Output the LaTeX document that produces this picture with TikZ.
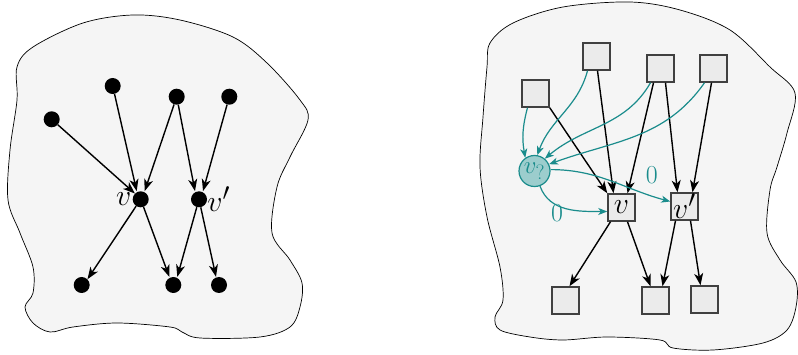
\documentclass[tikz,border=0pt]{standalone}
\usetikzlibrary{arrows.meta}
\definecolor{blobfill}{HTML}{F5F5F5}
\definecolor{boxfill}{HTML}{EBEBEB}
\definecolor{boxdraw}{HTML}{404040}
\definecolor{tealc}{HTML}{1A8C8C}
\definecolor{tealfill}{HTML}{9CCDCD}
\newcommand{\bigv}[1]{\scalebox{1.2}{\Huge $#1$}}
\begin{document}
\begin{tikzpicture}[x=1pt,y=-1pt,
  blob/.style={fill=blobfill, draw=black, line width=0.7pt},
  dot/.style={circle, fill=black, inner sep=0pt, minimum size=16pt},
  sq/.style={draw=boxdraw, fill=boxfill, line width=1.5pt, minimum size=27pt, inner sep=0pt},
  arr/.style={-{Stealth[length=12pt,width=9pt,inset=3.5pt]}, line width=1.4pt},
  tarr/.style={draw=tealc, line width=1.2pt, -{Stealth[length=9pt,width=7pt,inset=2.5pt]}},
  vlab/.style={inner sep=1pt},
  zlab/.style={text=tealc, inner sep=0pt}]
\useasboundingbox (0,0) rectangle (798,355);

% blobs
\filldraw[blob] plot[smooth cycle, tension=0.55] coordinates {(17,67) (33,47) (83,23) (133,15) (180,20) (233,37) (267,63) (300,100) (308,120) (290,157) (277,187) (272,233) (290,260) (302,283) (300,307) (290,327) (260,337) (200,338) (182,332) (170,327) (117,323) (73,327) (50,332) (33,323) (25,307) (33,293) (33,267) (20,233) (8,200) (10,150) (17,100)};
\filldraw[blob] plot[smooth cycle, tension=0.55] coordinates {(490,43) (513,23) (563,7) (630,2) (680,10) (730,30) (770,67) (795,93) (787,133) (777,167) (770,190) (767,233) (780,260) (796,282) (796,307) (787,330) (763,343) (713,350) (673,348) (660,340) (607,337) (563,340) (530,337) (500,330) (495,317) (503,300) (500,267) (487,217) (480,167) (483,117) (487,67)};

% left graph
\node[dot] (a1) at (51.7,119.3) {};
\node[dot] (a2) at (112.7,86) {};
\node[dot] (a3) at (176.7,96.7) {};
\node[dot] (a4) at (229.3,96.7) {};
\node[dot] (lv) at (140.7,199.3) {};
\node[dot] (lw) at (199,199.3) {};
\node[dot] (b1) at (81.7,285) {};
\node[dot] (b2) at (173.3,285) {};
\node[dot] (b3) at (219,285) {};
\node[vlab, anchor=east] (lvl) at (lv.west) {\bigv{v}};
\node[vlab, anchor=west] (lwl) at ([xshift=-1pt]lw.east) {\bigv{v'}};

\draw[arr] (a1) -- (lv.north west);
\draw[arr] (a2) -- ([xshift=-4pt]lv.north);
\draw[arr] (a3) -- ([xshift=4pt]lv.north);
\draw[arr] (a3) -- ([xshift=-4pt]lw.north);
\draw[arr] (a4) -- ([xshift=4pt]lw.north);
\draw[arr] (lv) -- (b1.north east);
\draw[arr] (lv) -- ([xshift=-4pt]b2.north);
\draw[arr] (lw) -- ([xshift=4pt]b2.north);
\draw[arr] (lw) -- ([xshift=-3pt]b3.north);

% right graph
\node[sq] (A) at (535.5,93.5) {};
\node[sq] (B) at (596.5,56.5) {};
\node[sq] (C) at (660.5,68.5) {};
\node[sq] (D) at (713.5,68.5) {};
\node[sq] (v) at (621.5,207.5) {\bigv{v}};
\node[sq] (w) at (684.5,206.5) {\bigv{v'}};
\node[sq] (c1) at (565.5,300.5) {};
\node[sq] (c2) at (655.5,300.5) {};
\node[sq] (c3) at (704.5,299.5) {};
\node[circle, draw=tealc, fill=tealfill, line width=1.2pt, minimum size=31pt, inner sep=0pt, text=tealc] (vq) at (534.5,171) {\Huge $v_?$};

\draw[arr] (A.south east) -- (v.north west);
\draw[arr] ([xshift=1pt]B.south) -- ([xshift=-8pt]v.north);
\draw[arr] ([xshift=-7pt]C.south) -- ([xshift=6pt]v.north);
\draw[arr] ([xshift=5pt]C.south) -- ([xshift=-7pt]w.north);
\draw[arr] ([xshift=-2pt]D.south) -- ([xshift=8pt]w.north);
\draw[arr] ([xshift=-11pt]v.south) -- ([xshift=4pt]c1.north);
\draw[arr] ([xshift=6pt]v.south) -- ([xshift=-5pt]c2.north);
\draw[arr] ([xshift=-9pt]w.south) -- ([xshift=7pt]c2.north);
\draw[arr] ([xshift=6pt]w.south) -- ([xshift=-4pt]c3.north);

\draw[tarr] ([xshift=-8pt]A.south) to[out=-105,in=100] (vq.125);
\draw[tarr] ([xshift=-9pt]B.south) to[out=-105,in=70] (vq.80);
\draw[tarr] ([xshift=-10pt]C.south) to[out=-120,in=40] (vq.50);
\draw[tarr] ([xshift=-9pt]D.south) to[out=-125,in=20] (vq.25);
\draw[tarr] (vq.5) to[out=0,in=165] ([yshift=5pt]w.west);
\draw[tarr] (vq.-70) to[out=-70,in=180] ([yshift=-4pt]v.west);

\node[zlab] (z1) at (651.7,175) {\scalebox{1.25}{\huge 0}};
\node[zlab] (z2) at (557,213) {\scalebox{1.25}{\huge 0}};
\end{tikzpicture}
\end{document}
